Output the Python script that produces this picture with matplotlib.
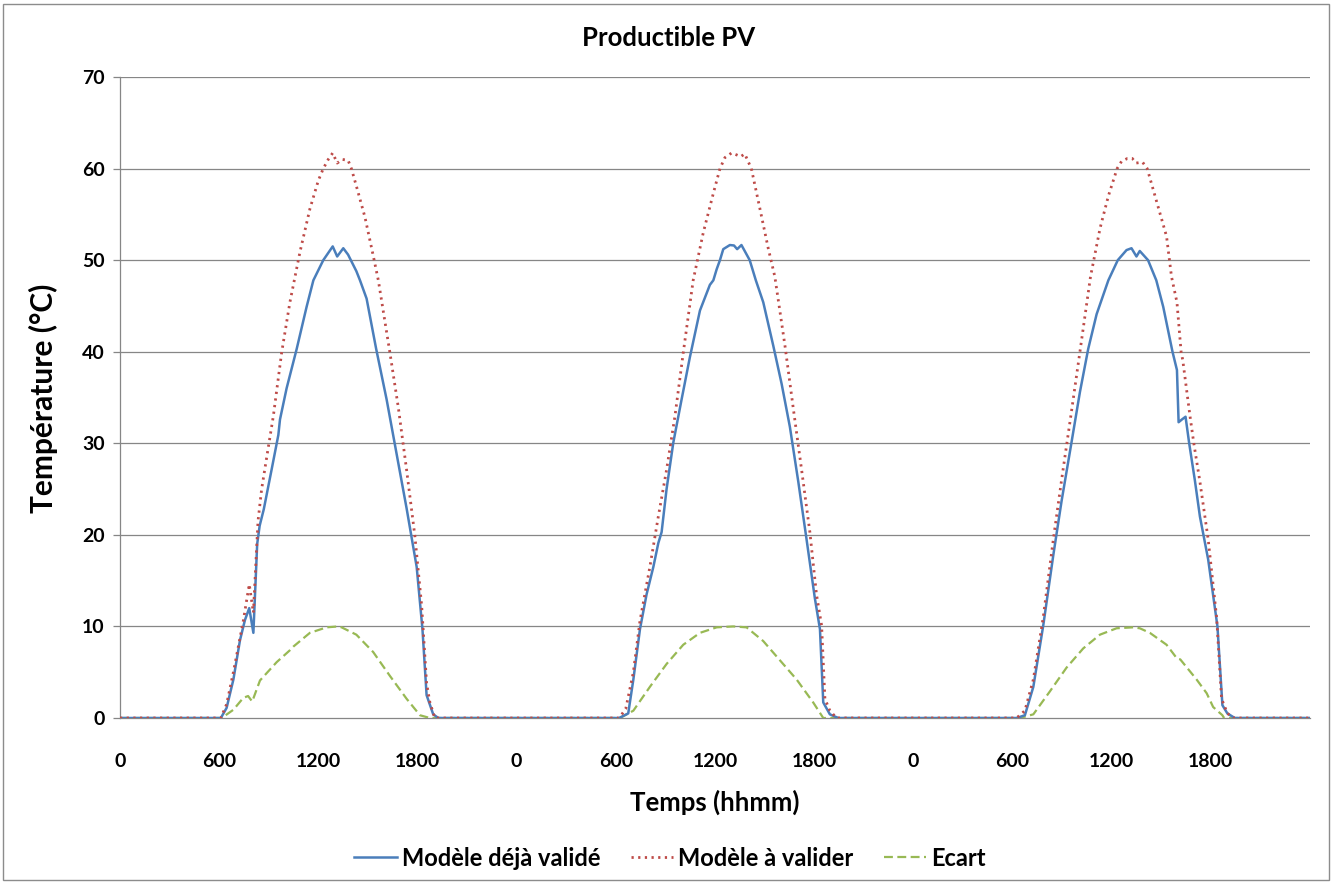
import numpy as np
import matplotlib
matplotlib.use("Agg")
import matplotlib.pyplot as plt
from matplotlib.patches import Rectangle

plt.rcParams['font.family'] = ['Lato', 'DejaVu Sans']

# ---------------- data (local hour of day, value) ----------------
# Day 1
d1_blue_h = [0, 6.1, 6.45, 6.86, 7.26, 7.56, 7.82, 8.07, 8.3, 8.45, 8.7, 9.17, 9.58, 9.68,
             10.08, 10.69, 11.29, 11.7, 12.3, 12.87, 13.14, 13.51, 13.8, 14.3, 14.52, 14.92,
             15.5, 16.13, 16.74, 17.34, 17.95, 18.3, 18.55, 18.95, 19.26, 24]
d1_blue_v = [0, 0, 1.1, 4.2, 8.5, 10.7, 12.0, 9.3, 19.0, 21.0, 22.8, 27.1, 30.9, 32.6,
             36.0, 40.3, 44.9, 47.8, 50.0, 51.5, 50.4, 51.3, 50.6, 48.8, 47.8, 45.8,
             40.3, 34.8, 28.8, 22.9, 16.5, 9.7, 2.5, 0.4, 0, 0]
d1_red_h = [0, 6.1, 6.45, 6.86, 7.46, 7.82, 7.95, 8.07, 8.35, 8.57, 8.87, 9.28, 9.78, 10.28,
            10.89, 11.49, 12.0, 12.3, 12.6, 12.87, 13.14, 13.45, 13.8, 14.0, 14.3, 14.82,
            15.32, 15.63, 16.33, 16.84, 17.34, 17.84, 18.25, 18.55, 18.75, 19.05, 24]
d1_red_v = [0, 0, 1.5, 5.0, 10.6, 14.6, 13.0, 11.5, 21.5, 25.0, 28.4, 33.0, 39.9, 45.4,
            50.9, 55.6, 58.7, 60.0, 61.0, 61.7, 60.6, 61.0, 60.9, 60.0, 58.1, 54.7,
            50.5, 47.8, 39.9, 33.9, 27.1, 19.9, 12.3, 3.8, 1.7, 0, 0]
d1_green_h = [0, 6.15, 6.86, 7.46, 7.75, 8.0, 8.47, 9.48, 10.28, 10.49, 11.49, 12.5, 13.2,
              13.41, 14.3, 15.32, 16.33, 17.34, 18.15, 18.75, 24]
d1_green_v = [0, 0, 0.9, 2.2, 2.4, 1.8, 4.1, 6.1, 7.4, 7.8, 9.3, 9.9, 10.0,
              9.9, 9.1, 7.2, 4.6, 2.1, 0.3, 0, 0]

# Day 2
d2_blue_h = [0, 6.2, 6.75, 7.06, 7.46, 7.86, 8.27, 8.57, 8.77, 9.07, 9.48, 9.98, 10.48,
             11.09, 11.69, 11.9, 12.1, 12.3, 12.5, 12.9, 13.15, 13.34, 13.6, 14.1, 14.47,
             14.92, 15.52, 16.03, 16.53, 17.04, 17.54, 18.04, 18.35, 18.55, 18.95, 19.46, 24]
d2_blue_v = [0, 0, 0.5, 4.2, 9.7, 13.5, 16.5, 19.1, 20.3, 25.0, 30.1, 34.8, 39.4,
             44.5, 47.3, 47.8, 49.0, 50.0, 51.2, 51.65, 51.6, 51.2, 51.65, 50.0, 47.8,
             45.4, 40.7, 36.5, 31.8, 25.8, 19.5, 13.1, 9.7, 1.7, 0.4, 0, 0]
d2_red_h = [0, 6.2, 6.6, 7.06, 7.46, 8.06, 8.57, 9.07, 9.58, 10.08, 10.68, 11.29, 11.9,
            12.3, 12.6, 13.0, 13.3, 13.55, 13.8, 14.2, 14.72, 15.22, 15.62, 16.23, 16.73,
            17.24, 17.74, 18.14, 18.45, 18.65, 18.95, 19.35, 24]
d2_red_v = [0, 0, 1.0, 5.0, 10.6, 16.5, 22.0, 27.1, 33.0, 39.9, 47.8, 53.0, 57.3,
            60.0, 61.2, 61.7, 61.5, 61.3, 61.6, 60.0, 55.6, 51.3, 48.2, 40.7, 33.9,
            27.1, 20.3, 13.5, 10.1, 2.1, 0.8, 0, 0]
d2_green_h = [0, 6.25, 7.06, 8.06, 9.07, 10.08, 11.09, 12.1, 13.1, 13.91, 14.92, 15.93,
              16.94, 17.94, 18.55, 24]
d2_green_v = [0, 0, 0.8, 3.4, 5.9, 8.0, 9.3, 9.9, 10.0, 9.9, 8.4, 6.3,
              4.2, 1.7, 0, 0]

# Day 3
d3_blue_h = [0, 6.25, 6.75, 7.26, 7.86, 8.47, 8.97, 9.57, 10.08, 10.58, 11.09, 11.8, 12.37,
             12.9, 13.2, 13.5, 13.7, 14.2, 14.7, 15.12, 15.68, 15.95, 16.05, 16.25, 16.47,
             16.69, 17.03, 17.34, 17.84, 18.4, 18.7, 19.0, 19.45, 24]
d3_blue_v = [0, 0, 0.3, 3.4, 10.1, 17.8, 23.7, 30.1, 35.6, 40.3, 44.1, 47.8, 50.0,
             51.1, 51.3, 50.4, 51.0, 50.0, 47.8, 44.9, 40.0, 38.0, 32.3, 32.6, 32.9,
             30.0, 26.0, 22.0, 17.3, 10.0, 1.4, 0.5, 0, 0]
d3_red_h = [0, 6.25, 6.75, 7.26, 7.86, 8.47, 8.97, 9.57, 10.08, 10.72, 11.3, 11.8, 12.33,
            12.6, 12.95, 13.25, 13.47, 13.87, 14.15, 14.72, 15.32, 15.62, 15.95, 16.2, 16.3,
            16.73, 16.97, 17.34, 17.84, 18.35, 18.65, 19.0, 19.4, 24]
d3_red_v = [0, 0, 0.8, 4.2, 11.0, 19.5, 26.0, 33.5, 40.0, 48.2, 53.5, 57.0, 60.0,
            60.8, 61.1, 61.1, 60.6, 60.7, 60.0, 56.4, 52.6, 48.2, 45.4, 40.0, 39.1,
            33.1, 30.0, 25.8, 19.5, 11.0, 2.1, 0.5, 0, 0]
d3_green_h = [0, 6.45, 7.26, 8.26, 9.27, 10.28, 11.29, 12.3, 13.3, 13.7, 14.31, 15.32,
              15.7, 15.95, 16.15, 17.14, 17.75, 18.14, 18.7, 18.8, 24]
d3_green_v = [0, 0, 0.4, 2.9, 5.5, 7.6, 9.1, 9.8, 9.9, 9.8, 9.3, 8.0,
              7.1, 6.5, 6.4, 4.2, 2.7, 1.2, 0.3, 0, 0]

tick_labels = ['0', '600', '1200', '1800'] * 3
series_names = ['Modèle déjà validé', 'Modèle à valider', 'Ecart']
title = 'Productible PV'
xlabel = 'Temps (hhmm)'
ylabel = 'Température (°C)'


def join(days):
    xs, ys = [], []
    for k, (h, v) in enumerate(days):
        xs.extend(np.asarray(h, float) + 24 * k)
        ys.extend(v)
    return np.array(xs), np.array(ys)


bx, by = join([(d1_blue_h, d1_blue_v), (d2_blue_h, d2_blue_v), (d3_blue_h, d3_blue_v)])
rx, ry = join([(d1_red_h, d1_red_v), (d2_red_h, d2_red_v), (d3_red_h, d3_red_v)])
gx, gy = join([(d1_green_h, d1_green_v), (d2_green_h, d2_green_v), (d3_green_h, d3_green_v)])

W, H = 1333, 884
fig = plt.figure(figsize=(W / 100, H / 100), dpi=100)
ax = fig.add_axes([120 / W, 1 - 718 / H, (1310 - 120) / W, (718 - 77) / H])

grid_c = '#868686'
blue_c = '#4A7EBB'
red_c = '#BE4B48'
green_c = '#98B954'

for yv in range(10, 71, 10):
    ax.axhline(yv, color=grid_c, lw=0.9, zorder=1)

ax.plot(gx, gy, color=green_c, lw=1.6, linestyle=(0, (4, 2)), zorder=3, label=series_names[2])
ax.plot(bx, by, color=blue_c, lw=1.8, zorder=4, label=series_names[0])
ax.plot(rx, ry, color=red_c, lw=2.0, linestyle=(0, (0.8, 1.6)), zorder=5, label=series_names[1])

ax.set_xlim(0, 72)
ax.set_ylim(0, 70)
ax.set_xticks(np.arange(0, 72, 6))
ax.set_xticklabels(tick_labels)
ax.set_yticks(np.arange(0, 71, 10))
ax.tick_params(axis='x', length=0, pad=25, labelsize=14)
ax.tick_params(axis='y', length=5, width=0.9, color=grid_c, pad=6, labelsize=14)
for lab in ax.get_xticklabels() + ax.get_yticklabels():
    lab.set_fontweight('bold')

for s in ['top', 'right']:
    ax.spines[s].set_visible(False)
for s in ['left', 'bottom']:
    ax.spines[s].set_color(grid_c)
    ax.spines[s].set_linewidth(0.9)

fig.text(669 / W, 1 - 38 / H, title, ha='center', va='center', fontsize=18.5, fontweight='bold')
fig.text(715 / W, 1 - 802 / H, xlabel, ha='center', va='center', fontsize=18.5, fontweight='bold')
fig.text(43 / W, 1 - 398 / H, ylabel, ha='center', va='center', rotation=90, fontsize=21.5,
         fontweight='bold')

handles, labels = ax.get_legend_handles_labels()
order = [1, 2, 0]
leg = fig.legend([handles[i] for i in order], [labels[i] for i in order], loc='center',
                 bbox_to_anchor=(670 / W, 1 - 858 / H), ncol=3, frameon=False,
                 handlelength=1.8, columnspacing=1.3, handletextpad=0.2,
                 prop={'weight': 'bold', 'size': 17})

fig.patches.append(Rectangle((3 / W, 4 / H), 1326 / W, 876 / H, transform=fig.transFigure,
                             fill=False, edgecolor='#8C8C8C', lw=1.0))

fig.savefig('out.png', dpi=100)
